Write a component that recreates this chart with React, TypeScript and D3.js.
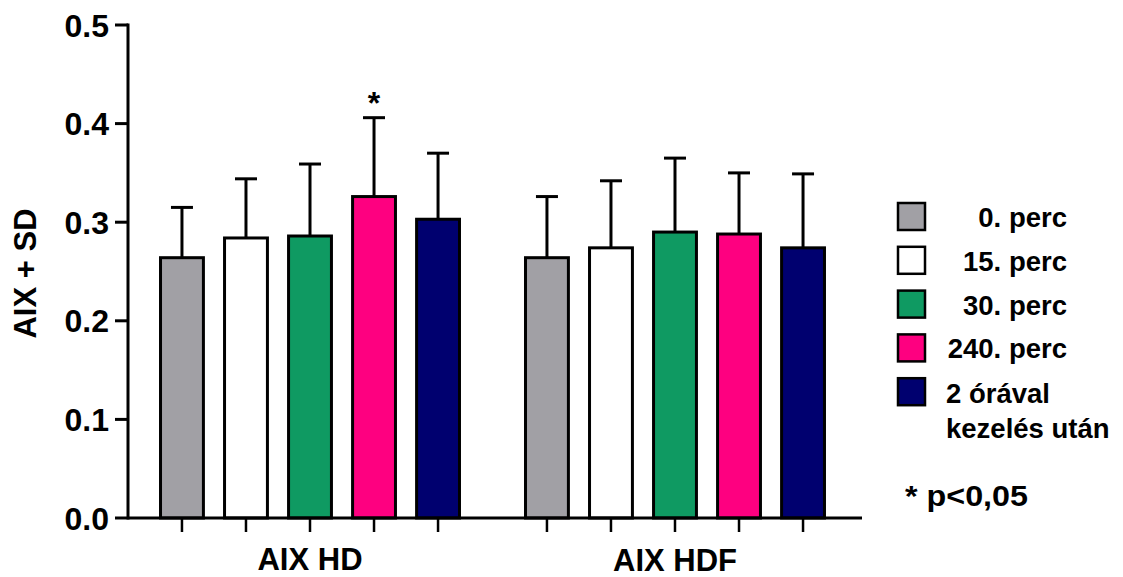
import React from "react";
import * as d3 from "d3";

const groups = ["AIX HD", "AIX HDF"];
const series = ["0. perc", "15. perc", "30. perc", "240. perc", "2 órával kezelés után"];
const colors = ["#a1a0a5", "#ffffff", "#0f9a62", "#fe0080", "#00006f"];
const meanHD = [0.264, 0.284, 0.286, 0.326, 0.303];
const sdHD = [0.051, 0.060, 0.073, 0.080, 0.067];
const meanHDF = [0.264, 0.274, 0.290, 0.288, 0.274];
const sdHDF = [0.062, 0.068, 0.075, 0.062, 0.075];
const yTicks = [0.0, 0.1, 0.2, 0.3, 0.4, 0.5];
const legendLines = [["0. perc"], ["15. perc"], ["30. perc"], ["240. perc"], ["2 órával", "kezelés után"]];

const W = 1123, H = 577;
const FONT = "'Liberation Sans', Arial, sans-serif";

export default function App() {
  const y = d3.scaleLinear().domain([0, 0.5]).range([518, 25]);
  const x0 = d3.scaleBand<string>().domain(groups).range([125.5, 859.5]).paddingInner(0.123).paddingOuter(0.067);
  const x1 = d3.scaleBand<string>().domain(series).range([0, x0.bandwidth()]).paddingInner(0.33).paddingOuter(0.165);
  const data = [
    { g: groups[0], means: meanHD, sds: sdHD, ly: 570 },
    { g: groups[1], means: meanHDF, sds: sdHDF, ly: 571 },
  ];
  const cap = 11;
  return (
    <svg width={W} height={H} style={{ position: "absolute", left: 0, top: 0, background: "#fff" }} fontFamily={FONT} fontWeight="bold">
      {/* y axis */}
      <line x1={128} x2={128} y1={y(0.5) - 1.5} y2={y(0) + 1.5} stroke="#000" strokeWidth={3} />
      {yTicks.map((t) => (
        <g key={t}>
          <line x1={115} x2={128} y1={y(t)} y2={y(t)} stroke="#000" strokeWidth={3} />
          <text x={109} y={y(t)} dy="0.36em" textAnchor="end" fontSize={32}>{d3.format(".1f")(t)}</text>
        </g>
      ))}
      <text transform={`translate(36,${273.5}) rotate(-90)`} textAnchor="middle" fontSize={31}>AIX + SD</text>
      {/* bars */}
      {data.map((d) => (
        <g key={d.g} transform={`translate(${x0(d.g)},0)`}>
          {series.map((s, i) => {
            const bx = x1(s)!;
            const cx = bx + x1.bandwidth() / 2;
            const top = y(d.means[i]);
            const et = y(d.means[i] + d.sds[i]);
            return (
              <g key={s}>
                <line x1={cx} x2={cx} y1={top} y2={et} stroke="#000" strokeWidth={3} />
                <line x1={cx - cap} x2={cx + cap} y1={et} y2={et} stroke="#000" strokeWidth={3} />
                <rect x={bx} y={top} width={x1.bandwidth()} height={y(0) - top} fill={colors[i]} stroke="#000" strokeWidth={3} />
                <line x1={cx} x2={cx} y1={y(0)} y2={y(0) + 14} stroke="#000" strokeWidth={2.5} />
              </g>
            );
          })}
          <text x={x0.bandwidth() / 2} y={d.ly} textAnchor="middle" fontSize={31}>{d.g}</text>
        </g>
      ))}
      {/* x axis */}
      <line x1={128} x2={862} y1={y(0)} y2={y(0)} stroke="#000" strokeWidth={3} />
      {/* significance */}
      <text x={(x0(groups[0])! + x1(series[3])! + x1.bandwidth() / 2)} y={y(meanHD[3] + sdHD[3]) - 4} textAnchor="middle" fontSize={32}>*</text>
      {/* legend */}
      {legendLines.map((lines, i) => {
        const top = 203 + i * 43.8;
        return (
          <g key={i}>
            <rect x={898} y={top} width={27} height={27} fill={colors[i]} stroke="#000" strokeWidth={2.5} />
            {lines.length === 1 ? (
              <text x={1067} y={top + 24} textAnchor="end" fontSize={27.5}>{lines[0]}</text>
            ) : (
              lines.map((l, j) => (
                <text key={j} x={946} y={top + 25 + j * 35} fontSize={27.5}>{l}</text>
              ))
            )}
          </g>
        );
      })}
      <text x={905} y={506} fontSize={29} textLength={123} lengthAdjust="spacingAndGlyphs">* p&lt;0,05</text>
    </svg>
  );
}
